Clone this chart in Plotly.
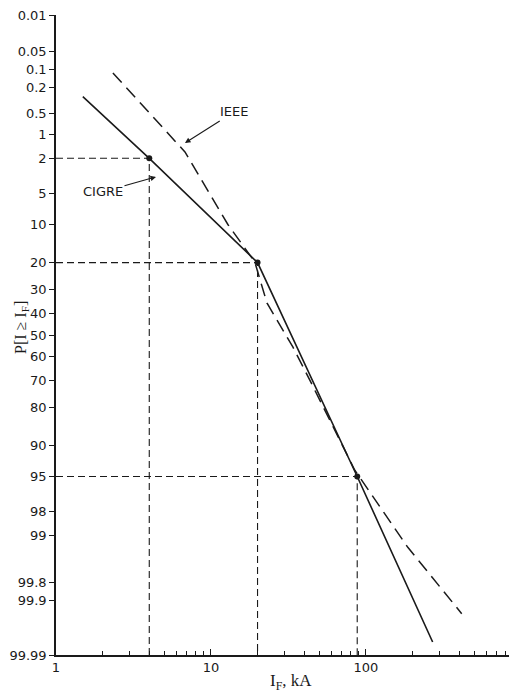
import math
from statistics import NormalDist
import plotly.graph_objects as go

# ---------------- data ----------------
prob_ticks = [0.01, 0.05, 0.1, 0.2, 0.5, 1, 2, 5, 10, 20, 30, 40, 50, 60, 70,
              80, 90, 95, 98, 99, 99.8, 99.9, 99.99]
prob_tick_text = ["0.01", "0.05", "0.1", "0.2", "0.5", "1", "2", "5", "10", "20",
                  "30", "40", "50", "60", "70", "80", "90", "95", "98", "99",
                  "99.8", "99.9", "99.99"]
current_ticks = [1, 10, 100]
current_tick_text = ["1", "10", "100"]
current_minor = [2, 3, 4, 5, 6, 7, 8, 9, 20, 30, 40, 50, 60, 70, 80, 90,
                 200, 300, 400, 500, 600, 700, 800, 900]
x_max_kA = 840

# CIGRE (solid)
cigre_kA = [1.49, 4, 20, 88, 270]
cigre_p = [0.28, 2, 20, 95, 99.982]

# IEEE (dashed)
ieee_kA = [2.33, 6.8, 12.9, 19.2, 23.0, 33.8, 43.5, 84.9, 186.6, 416]
ieee_p = [0.116, 1.67, 10.0, 19.8, 35.5, 55.5, 70.0, 94.2, 99.32, 99.94]

# reference points with dashed guide lines
ref_kA = [4, 20, 88]
ref_p = [2, 20, 95]

ND = NormalDist()


def z(p):
    """normal-probability scale coordinate of a percentage"""
    return ND.inv_cdf(p / 100.0)


ink = "#1a1a1a"
tick_font = dict(family="DejaVu Sans", size=13, color=ink)

fig = go.Figure()

# guide lines
gx, gy = [], []
for k, p in zip(ref_kA, ref_p):
    gx += [current_ticks[0], k, k, None]
    gy += [z(p), z(p), z(prob_ticks[-1]), None]
fig.add_trace(go.Scatter(x=gx, y=gy, mode="lines",
                         line=dict(color=ink, width=1.1, dash="7px,4px"),
                         hoverinfo="skip"))

# IEEE
fig.add_trace(go.Scatter(x=ieee_kA, y=[z(p) for p in ieee_p], mode="lines",
                         line=dict(color=ink, width=1.5, dash="13px,7px"),
                         name="IEEE"))
# CIGRE
fig.add_trace(go.Scatter(x=cigre_kA, y=[z(p) for p in cigre_p], mode="lines",
                         line=dict(color=ink, width=1.6), name="CIGRE"))
# points
fig.add_trace(go.Scatter(x=ref_kA, y=[z(p) for p in ref_p], mode="markers",
                         marker=dict(color=ink, size=6)))

fig.update_xaxes(type="log", range=[0, math.log10(x_max_kA)],
                 tickmode="array", tickvals=current_ticks, ticktext=current_tick_text,
                 ticks="inside", ticklen=6, tickwidth=1, tickcolor=ink,
                 tickfont=tick_font,
                 minor=dict(tickmode="array", tickvals=current_minor,
                            ticks="inside", ticklen=4, tickcolor=ink, showgrid=False),
                 showline=True, linecolor=ink, linewidth=1.5,
                 showgrid=False, zeroline=False, mirror=False)

fig.update_yaxes(range=[z(prob_ticks[-1]), z(prob_ticks[0])],
                 tickmode="array", tickvals=[z(p) for p in prob_ticks],
                 ticktext=prob_tick_text,
                 ticks="outside", ticklen=5, tickwidth=1, tickcolor=ink,
                 tickfont=tick_font,
                 showline=True, linecolor=ink, linewidth=1.5,
                 showgrid=False, zeroline=False, mirror=False)

fig.add_annotation(text="IEEE", x=math.log10(6.8), y=z(1.28), xref="x", yref="y",
                   ax=49, ay=-31, showarrow=True, arrowhead=2, arrowsize=1,
                   arrowwidth=1.1, arrowcolor=ink, font=tick_font)
fig.add_annotation(text="CIGRE", x=math.log10(4.42), y=z(3.31), xref="x", yref="y",
                   ax=-53, ay=15, showarrow=True, arrowhead=2, arrowsize=1,
                   arrowwidth=1.1, arrowcolor=ink, font=tick_font)

# axis titles
fig.add_annotation(text="P[I ≥ I<sub>F</sub>]", xref="paper", yref="paper",
                   x=-0.075, y=0.511, textangle=-90, showarrow=False,
                   xanchor="center", yanchor="middle",
                   font=dict(family="Liberation Serif", size=16, color=ink))
fig.add_annotation(text="I<sub>F</sub>, kA", xref="paper", yref="paper",
                   x=0.519, y=-0.042, showarrow=False,
                   xanchor="center", yanchor="middle",
                   font=dict(family="Liberation Serif", size=17, color=ink))

fig.update_layout(width=509, height=692,
                  margin=dict(l=56, r=0, t=15, b=37),
                  paper_bgcolor="white", plot_bgcolor="white",
                  showlegend=False)

fig.write_html("out.html")
